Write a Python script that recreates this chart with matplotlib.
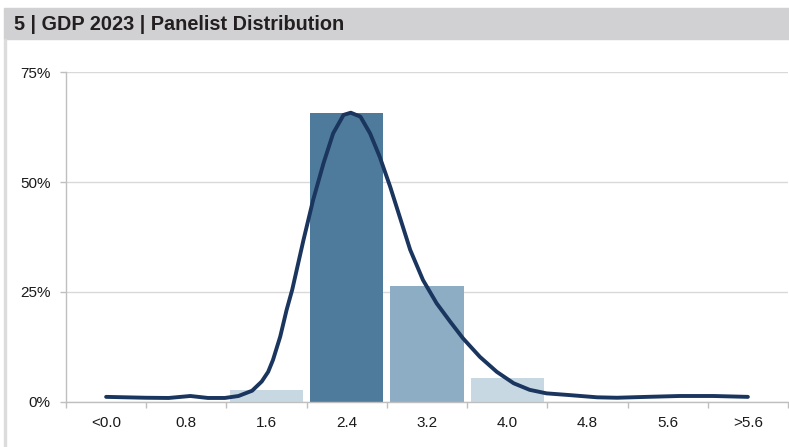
import matplotlib.pyplot as plt
from matplotlib.patches import Rectangle
from matplotlib.ticker import FixedLocator, PercentFormatter

plt.rcParams['font.family'] = ['Liberation Sans', 'DejaVu Sans']

# panelist distribution for GDP 2023 (share of panelists, %)
categories = ['<0.0', '0.8', '1.6', '2.4', '3.2', '4.0', '4.8', '5.6', '>5.6']
share = [0, 0, 2.6, 65.8, 26.3, 5.3, 0, 0, 0]

# smoothed density curve, x in category positions, y in %
curve_x = [0.0, 0.49, 0.78, 1.05, 1.27, 1.48, 1.65, 1.82, 1.94, 2.02, 2.08,
           2.17, 2.25, 2.32, 2.46, 2.58, 2.71, 2.83, 2.96, 3.05, 3.17, 3.29,
           3.41, 3.54, 3.66, 3.79, 3.95, 4.12, 4.29, 4.45, 4.66, 4.87, 5.08,
           5.28, 5.49, 5.78, 6.12, 6.37, 6.74, 7.15, 7.57, 8.0]
curve_y = [1.1, 0.9, 0.85, 1.3, 0.85, 0.85, 1.3, 2.5, 4.6, 6.8, 9.5,
           14.8, 20.9, 25.5, 36.8, 45.9, 54.3, 61.1, 65.3, 65.8, 64.9, 61.1,
           55.8, 49.0, 42.1, 34.6, 27.7, 22.4, 18.2, 14.4, 10.2, 6.8, 4.2,
           2.7, 1.9, 1.5, 1.0, 0.9, 1.1, 1.3, 1.3, 1.1]

bar_colors = ['#c7d8e2', '#c7d8e2', '#c7d8e2', '#4e7b9b', '#8cadc3',
              '#c7d8e2', '#c7d8e2', '#c7d8e2', '#c7d8e2']

fig = plt.figure(figsize=(7.89, 4.47), dpi=100)

# title bar + left frame line
fig.patches.append(Rectangle((4 / 789, 1 - 39 / 447), 1, 31 / 447,
                             transform=fig.transFigure, color='#d1d1d3', zorder=0))
fig.patches.append(Rectangle((4 / 789, 0), 2 / 789, 1 - 39 / 447,
                             transform=fig.transFigure, color='#dcdcdc', zorder=0))
fig.text(14 / 789, 1 - 25 / 447, '5 | GDP 2023 | Panelist Distribution',
         fontsize=14.3, fontweight='bold', color='#231f20', va='center', ha='left')

ax = fig.add_axes([66 / 789, 45.3 / 447, 722 / 789, 329.4 / 447])
x = range(len(categories))
ax.bar(x, share, width=0.915, color=bar_colors, zorder=2)
ax.plot(curve_x, curve_y, color='#1a355e', linewidth=2.8,
        solid_capstyle='round', solid_joinstyle='round', zorder=3)

ax.set_xlim(-0.5, len(categories) - 0.5)
ax.set_ylim(0, 75)
ax.set_yticks([0, 25, 50, 75])
ax.yaxis.set_major_formatter(PercentFormatter(decimals=0))
ax.set_xticks(list(x))
ax.set_xticklabels(categories)
ax.xaxis.set_minor_locator(FixedLocator([i - 0.5 for i in range(len(categories) + 1)]))

ax.tick_params(axis='x', which='major', length=0, pad=10, labelsize=11, labelcolor='#1a1a1a')
ax.tick_params(axis='x', which='minor', length=4, width=1, color='#bfbfbf')
ax.tick_params(axis='y', length=4, width=1, color='#bfbfbf', pad=7,
               labelsize=11, labelcolor='#1a1a1a')

ax.grid(axis='y', color='#d9d9d9', linewidth=1, zorder=0)
ax.set_axisbelow(True)
for side in ['top', 'right']:
    ax.spines[side].set_visible(False)
for side in ['left', 'bottom']:
    ax.spines[side].set_color('#bfbfbf')
    ax.spines[side].set_linewidth(1)
    ax.spines[side].set_zorder(4)

fig.savefig('out.png', dpi=100)
